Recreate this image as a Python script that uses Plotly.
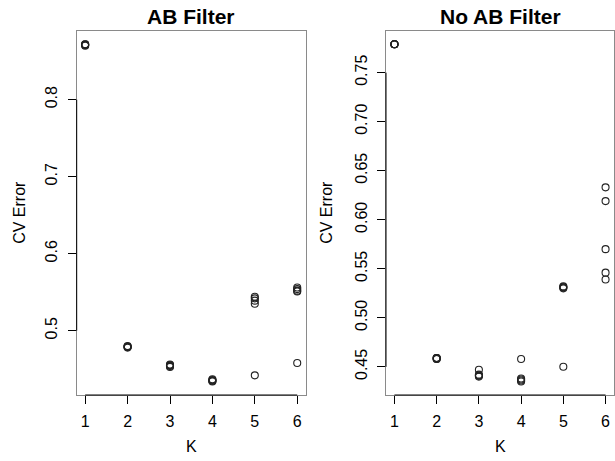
import plotly.graph_objects as go

W, H = 615, 461

k_values = [1, 2, 3, 4, 5, 6]
runs_per_k = 5

ab_filter_cv = {
    1: [0.872, 0.871, 0.872, 0.870, 0.871],
    2: [0.479, 0.480, 0.479, 0.478, 0.479],
    3: [0.456, 0.455, 0.454, 0.453, 0.455],
    4: [0.437, 0.436, 0.435, 0.434, 0.435],
    5: [0.544, 0.542, 0.539, 0.535, 0.442],
    6: [0.556, 0.554, 0.552, 0.551, 0.458],
}
no_ab_filter_cv = {
    1: [0.779, 0.779, 0.779, 0.779, 0.779],
    2: [0.459, 0.458, 0.459, 0.458, 0.459],
    3: [0.447, 0.441, 0.441, 0.440, 0.442],
    4: [0.458, 0.438, 0.437, 0.436, 0.435],
    5: [0.532, 0.531, 0.530, 0.531, 0.450],
    6: [0.633, 0.619, 0.570, 0.546, 0.539],
}

left_ticks = [0.5, 0.6, 0.7, 0.8]
right_ticks = [0.45, 0.50, 0.55, 0.60, 0.65, 0.70, 0.75]
x_ticks = [1, 2, 3, 4, 5, 6]

titles = ["AB Filter", "No AB Filter"]
x_title = "K"
y_title = "CV Error"

FONT = "Liberation Sans, Arial, sans-serif"

# panel pixel geometry
panels = [
    dict(x0=76.7, x1=305.7),
    dict(x0=386.0, x1=614.0),
]
py0, py1 = 30.7, 395.0


def flat(d):
    xs, ys = [], []
    for k in k_values:
        for v in d[k]:
            xs.append(k)
            ys.append(v)
    return xs, ys


def r_range(vals):
    lo, hi = min(vals), max(vals)
    pad = 0.04 * (hi - lo)
    return [lo - pad, hi + pad]


fig = go.Figure()
datasets = [ab_filter_cv, no_ab_filter_cv]
tick_sets = [left_ticks, right_ticks]
fmts = [".1f", ".2f"]

layout = dict(
    width=W, height=H, margin=dict(l=0, r=0, t=0, b=0, autoexpand=False),
    paper_bgcolor="white", plot_bgcolor="white", showlegend=False,
    font=dict(family=FONT, size=16, color="black"),
)
annotations = []
shapes = []

for i, (d, ticks, fmt, p) in enumerate(zip(datasets, tick_sets, fmts, panels)):
    xs, ys = flat(d)
    sfx = "" if i == 0 else str(i + 1)
    fig.add_trace(go.Scatter(
        x=xs, y=ys, mode="markers", xaxis="x" + sfx, yaxis="y" + sfx,
        marker=dict(symbol="circle-open", size=7, color="#222",
                    line=dict(width=1.1, color="#222")),
        hoverinfo="x+y", cliponaxis=False,
    ))
    xdom = [p["x0"] / W, p["x1"] / W]
    ydom = [1 - py1 / H, 1 - py0 / H]
    lo = min(x_ticks)
    hi = max(x_ticks)
    xr = [lo - 0.04 * (hi - lo), hi + 0.04 * (hi - lo)]
    layout["xaxis" + sfx] = dict(
        domain=xdom, range=xr, anchor="y" + sfx, automargin=False,
        tickvals=x_ticks, ticktext=[str(t) for t in x_ticks],
        ticks="outside", ticklen=8, tickwidth=1, tickcolor="black",
        showline=True, mirror=True, linecolor="#8a8a8a", linewidth=1,
        showgrid=False, zeroline=False,
        tickfont=dict(size=16, family=FONT),
        ticklabelstandoff=4,
    )
    layout["yaxis" + sfx] = dict(
        domain=ydom, range=r_range(ys), anchor="x" + sfx, automargin=False,
        tickvals=ticks, tickformat=fmt, tickangle=-90,
        ticks="outside", ticklen=8, tickwidth=1, tickcolor="black",
        showline=True, mirror=True, linecolor="#8a8a8a", linewidth=1,
        showgrid=False, zeroline=False,
        tickfont=dict(size=16, family=FONT),
        ticklabelstandoff=4,
    )
    # darker axis segments spanning tick range (R style)
    shapes.append(dict(type="line", xref="x" + sfx + " domain", x0=0, x1=0,
                       yref="y" + sfx, y0=min(ticks), y1=max(ticks),
                       line=dict(color="black", width=1)))
    shapes.append(dict(type="line", xref="x" + sfx, x0=min(x_ticks), x1=max(x_ticks),
                       yref="y" + sfx + " domain", y0=0, y1=0,
                       line=dict(color="black", width=1)))
    cx = (p["x0"] + p["x1"]) / 2 / W
    annotations.append(dict(text="<b>" + titles[i] + "</b>", xref="paper", yref="paper",
                            x=cx, y=1 - 16.7 / H, showarrow=False,
                            font=dict(size=21, family=FONT), xanchor="center", yanchor="middle"))
    annotations.append(dict(text=x_title, xref="paper", yref="paper",
                            x=cx, y=1 - 446 / H, showarrow=False,
                            font=dict(size=16, family=FONT), xanchor="center", yanchor="middle"))
    ytx = [20.0, 327.0][i]
    annotations.append(dict(text=y_title, xref="paper", yref="paper",
                            x=ytx / W, y=1 - (py0 + py1) / 2 / H, showarrow=False, textangle=-90,
                            font=dict(size=16, family=FONT), xanchor="center", yanchor="middle"))

layout["annotations"] = annotations
layout["shapes"] = shapes
fig.update_layout(**layout)
fig.write_html(
    "out.html",
    config={"displayModeBar": False},
    post_script="document.body.style.margin='0';document.body.style.overflow='hidden';",
)
